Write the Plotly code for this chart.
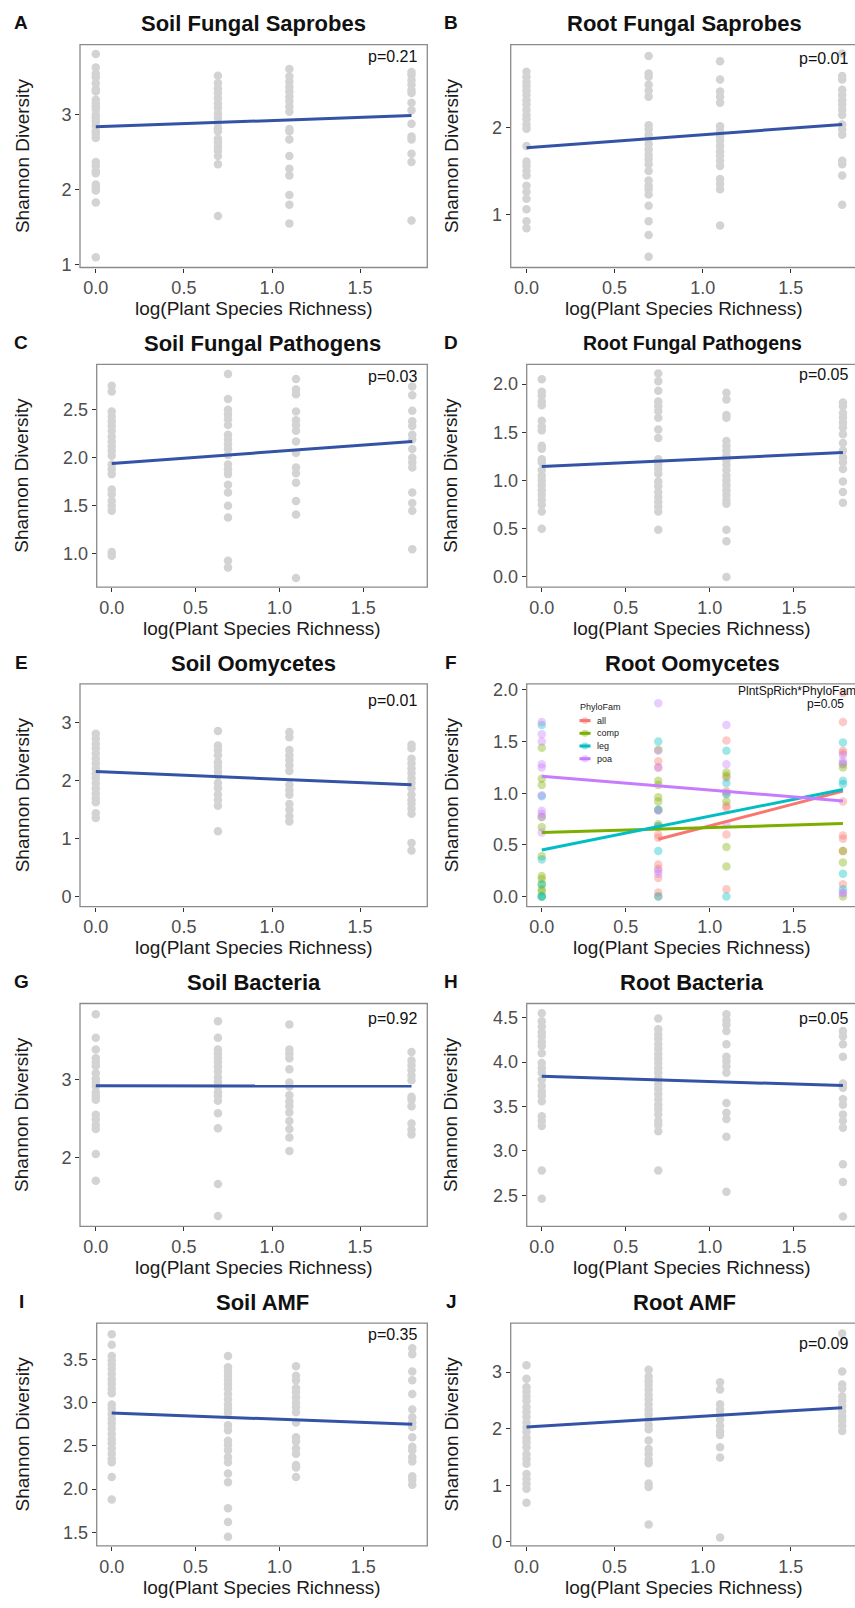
import numpy as np
import plotly.graph_objects as go

# ---------------- data ----------------
richness = [1, 2, 3, 6]
log_rich = list(np.log(richness))
x_tick_vals = [0.0, 0.5, 1.0, 1.5]

# each list: Shannon diversity values at richness 1, 2, 3, 6
soil_sap = [
    [3.81, 3.63, 3.55, 3.50, 3.42, 3.34, 3.31, 3.20, 3.15, 3.11, 3.07, 3.00, 2.96, 2.91, 2.85, 2.78, 2.74, 2.69, 2.37, 2.32, 2.25, 2.22, 2.07, 2.03, 1.99, 1.83, 1.10],
    [3.52, 3.42, 3.35, 3.29, 3.22, 3.15, 3.09, 3.02, 2.96, 2.89, 2.82, 2.78, 2.68, 2.63, 2.57, 2.52, 2.45, 2.34, 1.65],
    [3.61, 3.51, 3.44, 3.37, 3.31, 3.24, 3.18, 3.11, 3.04, 2.81, 2.78, 2.67, 2.45, 2.28, 2.19, 1.93, 1.80, 1.55],
    [3.57, 3.53, 3.46, 3.40, 3.33, 3.29, 3.16, 3.06, 2.88, 2.71, 2.67, 2.48, 2.37, 1.59],
]
soil_sap_fit = [2.84, 2.99]

root_sap = [
    [2.65, 2.59, 2.53, 2.48, 2.43, 2.38, 2.32, 2.27, 2.21, 2.15, 2.10, 2.04, 1.99, 1.79, 1.61, 1.56, 1.50, 1.45, 1.33, 1.26, 1.18, 1.06, 0.92, 0.84],
    [2.83, 2.63, 2.59, 2.50, 2.43, 2.36, 2.03, 1.98, 1.92, 1.87, 1.81, 1.75, 1.69, 1.64, 1.58, 1.50, 1.39, 1.33, 1.29, 1.23, 1.10, 0.92, 0.76, 0.51],
    [2.77, 2.56, 2.42, 2.36, 2.29, 2.02, 1.96, 1.90, 1.85, 1.79, 1.73, 1.68, 1.62, 1.56, 1.41, 1.35, 1.29, 0.87],
    [2.86, 2.60, 2.56, 2.44, 2.38, 2.32, 2.27, 2.21, 2.15, 2.04, 1.98, 1.92, 1.62, 1.58, 1.45, 1.11],
]
root_sap_fit = [1.77, 2.04]

soil_path = [
    [2.75, 2.69, 2.48, 2.43, 2.38, 2.33, 2.28, 2.22, 2.17, 2.12, 2.07, 2.02, 1.93, 1.88, 1.83, 1.67, 1.62, 1.55, 1.50, 1.45, 1.02, 0.98],
    [2.87, 2.61, 2.50, 2.45, 2.40, 2.34, 2.24, 2.19, 2.14, 2.09, 2.03, 1.93, 1.88, 1.83, 1.72, 1.64, 1.50, 1.38, 0.93, 0.86],
    [2.82, 2.71, 2.66, 2.48, 2.39, 2.34, 2.28, 2.17, 2.05, 1.90, 1.84, 1.74, 1.55, 1.41, 0.75],
    [2.74, 2.65, 2.49, 2.38, 2.33, 2.24, 2.19, 2.09, 2.00, 1.95, 1.90, 1.64, 1.53, 1.45, 1.05],
]
soil_path_fit = [1.94, 2.17]

root_path = [
    [2.05, 1.92, 1.88, 1.82, 1.78, 1.62, 1.56, 1.52, 1.36, 1.33, 1.22, 1.19, 1.11, 1.05, 1.00, 0.95, 0.90, 0.85, 0.80, 0.75, 0.68, 0.50],
    [2.11, 2.03, 1.93, 1.82, 1.77, 1.72, 1.65, 1.53, 1.44, 1.22, 1.17, 1.12, 1.07, 0.99, 0.94, 0.88, 0.83, 0.78, 0.73, 0.68, 0.49],
    [1.91, 1.84, 1.68, 1.65, 1.41, 1.36, 1.31, 1.26, 1.21, 1.16, 1.11, 1.05, 1.00, 0.95, 0.90, 0.85, 0.80, 0.76, 0.49, 0.37, 0.00],
    [1.81, 1.77, 1.70, 1.65, 1.60, 1.55, 1.48, 1.39, 1.31, 1.24, 1.19, 1.12, 0.99, 0.88, 0.77],
]
root_path_fit = [1.146, 1.29]

soil_oom = [
    [2.81, 2.73, 2.64, 2.56, 2.47, 2.38, 2.30, 2.21, 2.12, 2.05, 1.96, 1.87, 1.78, 1.70, 1.63, 1.44, 1.36],
    [2.86, 2.61, 2.53, 2.44, 2.32, 2.24, 2.16, 2.09, 1.96, 1.87, 1.76, 1.67, 1.57, 1.13],
    [2.84, 2.75, 2.53, 2.44, 2.36, 2.27, 2.17, 1.93, 1.84, 1.76, 1.60, 1.50, 1.39, 1.30],
    [2.62, 2.56, 2.38, 2.30, 2.21, 2.13, 2.04, 1.96, 1.87, 1.76, 1.67, 1.60, 1.52, 1.43, 0.93, 0.80],
]
soil_oom_fit = [2.16, 1.93]

# Root oomycetes, split by plant phylogenetic family
phylo_fams = ["all", "comp", "leg", "poa"]
root_oom_all = [[], [1.31, 1.25, 0.68, 0.60, 0.57, 0.31, 0.27, 0.18, 0.04, 0.00],
                [1.51, 1.15, 1.02, 1.00, 0.88, 0.86, 0.60, 0.07],
                [1.97, 1.69, 1.41, 1.39, 0.92, 0.59, 0.56, 0.44, 0.12]]
root_oom_comp = [[1.44, 1.14, 1.08, 0.77, 0.67, 0.39, 0.20, 0.17, 0.12, 0.07, 0.05, 0.00],
                 [1.42, 1.12, 1.08, 0.96, 0.92, 0.84, 0.70],
                 [1.20, 1.17, 0.92, 0.48, 0.29],
                 [1.28, 1.25, 0.44, 0.33, 0.00]]
root_oom_leg = [[1.66, 0.97, 0.36, 0.12, 0.00, 0.00],
                [1.50, 0.84, 0.68, 0.44, 0.00],
                [1.41, 1.10, 0.99, 0.00],
                [1.49, 1.12, 1.09, 0.22, 0.07]]
root_oom_poa = [[1.69, 1.57, 1.50, 1.28, 1.25, 0.98, 0.83, 0.80, 0.77, 0.62],
                [1.87, 1.41, 1.25, 0.83, 0.25, 0.22],
                [1.66, 1.28, 0.70],
                [1.37, 1.31, 1.29, 0.04, 0.03]]
root_oom_fit_all = [0.555, 1.02]     # fitted over richness 2..6
root_oom_fit_comp = [0.62, 0.706]
root_oom_fit_leg = [0.45, 1.037]
root_oom_fit_poa = [1.165, 0.925]

soil_bac = [
    [3.83, 3.53, 3.38, 3.27, 3.22, 3.17, 3.08, 3.01, 2.96, 2.91, 2.84, 2.79, 2.74, 2.55, 2.49, 2.42, 2.37, 2.05, 1.71],
    [3.74, 3.53, 3.38, 3.33, 3.27, 3.22, 3.16, 3.10, 3.03, 2.97, 2.91, 2.84, 2.79, 2.73, 2.57, 2.38, 1.67, 1.26],
    [3.70, 3.38, 3.33, 3.27, 3.13, 2.96, 2.91, 2.80, 2.72, 2.66, 2.58, 2.47, 2.37, 2.26, 2.09],
    [3.35, 3.24, 3.18, 3.12, 3.05, 2.99, 2.78, 2.74, 2.66, 2.44, 2.36, 2.30],
]
soil_bac_fit = [2.92, 2.915]

root_bac = [
    [4.55, 4.46, 4.40, 4.34, 4.29, 4.23, 4.18, 4.10, 3.99, 3.93, 3.88, 3.80, 3.73, 3.67, 3.62, 3.56, 3.39, 3.34, 3.28, 2.78, 2.46],
    [4.49, 4.37, 4.31, 4.26, 4.20, 4.15, 4.09, 4.04, 3.99, 3.93, 3.88, 3.82, 3.75, 3.70, 3.64, 3.58, 3.52, 3.47, 3.41, 3.34, 3.29, 3.22, 2.78],
    [4.54, 4.47, 4.42, 4.35, 4.20, 4.06, 4.01, 3.95, 3.88, 3.54, 3.43, 3.36, 3.16, 2.54],
    [4.35, 4.29, 4.20, 4.06, 3.76, 3.71, 3.58, 3.52, 3.41, 3.34, 3.26, 2.85, 2.65, 2.26],
]
root_bac_fit = [3.84, 3.735]

soil_amf = [
    [3.79, 3.67, 3.54, 3.49, 3.44, 3.39, 3.33, 3.27, 3.22, 3.16, 3.11, 2.98, 2.93, 2.87, 2.81, 2.76, 2.70, 2.64, 2.58, 2.53, 2.47, 2.41, 2.35, 2.31, 2.14, 1.88],
    [3.54, 3.41, 3.36, 3.31, 3.26, 3.21, 3.16, 3.10, 3.04, 2.98, 2.93, 2.88, 2.74, 2.68, 2.56, 2.51, 2.45, 2.37, 2.31, 2.18, 2.08, 1.78, 1.62, 1.45],
    [3.42, 3.31, 3.26, 3.17, 3.12, 3.06, 3.00, 2.95, 2.89, 2.77, 2.60, 2.55, 2.47, 2.41, 2.28, 2.25, 2.14],
    [3.63, 3.56, 3.36, 3.26, 3.10, 2.92, 2.83, 2.77, 2.72, 2.60, 2.49, 2.45, 2.37, 2.32, 2.15, 2.11, 2.05],
]
soil_amf_fit = [2.88, 2.75]

root_amf = [
    [3.12, 2.88, 2.73, 2.65, 2.57, 2.49, 2.38, 2.30, 2.21, 2.11, 2.02, 1.94, 1.84, 1.76, 1.67, 1.55, 1.46, 1.38, 1.20, 1.11, 1.03, 0.94, 0.69],
    [3.04, 2.92, 2.84, 2.77, 2.69, 2.60, 2.52, 2.43, 2.34, 2.25, 2.16, 2.07, 1.99, 1.79, 1.64, 1.55, 1.45, 1.39, 1.03, 0.97, 0.31],
    [2.82, 2.69, 2.43, 2.34, 2.25, 2.16, 2.05, 1.96, 1.89, 1.67, 1.49, 0.08],
    [3.68, 3.01, 2.78, 2.71, 2.57, 2.49, 2.40, 2.31, 2.22, 2.14, 2.05, 1.96],
]
root_amf_fit = [2.03, 2.37]

panel_letters = ["A", "B", "C", "D", "E", "F", "G", "H", "I", "J"]
panel_titles = ["Soil Fungal Saprobes", "Root Fungal Saprobes", "Soil Fungal Pathogens",
                "Root Fungal Pathogens", "Soil Oomycetes", "Root Oomycetes",
                "Soil Bacteria", "Root Bacteria", "Soil AMF", "Root AMF"]
p_labels = ["p=0.21", "p=0.01", "p=0.03", "p=0.05", "p=0.01", "p=0.05",
            "p=0.92", "p=0.05", "p=0.35", "p=0.09"]
y_tick_vals = [[1, 2, 3], [1, 2], [1.0, 1.5, 2.0, 2.5], [0.0, 0.5, 1.0, 1.5, 2.0],
               [0, 1, 2, 3], [0.0, 0.5, 1.0, 1.5, 2.0], [2, 3],
               [2.5, 3.0, 3.5, 4.0, 4.5], [1.5, 2.0, 2.5, 3.0, 3.5], [0, 1, 2, 3]]
y_tick_fmt = ["d", "d", ".1f", ".1f", "d", ".1f", "d", ".1f", ".1f", "d"]
y_ranges = [[0.964, 3.935], [0.385, 2.962], [0.655, 2.972], [-0.105, 2.205],
            [-0.17, 3.67], [-0.098, 2.058], [1.13, 3.967], [2.15, 4.66],
            [1.344, 3.92], [-0.07, 3.864]]
grey_data = [soil_sap, root_sap, soil_path, root_path, soil_oom, None,
             soil_bac, root_bac, soil_amf, root_amf]
grey_fits = [soil_sap_fit, root_sap_fit, soil_path_fit, root_path_fit, soil_oom_fit, None,
             soil_bac_fit, root_bac_fit, soil_amf_fit, root_amf_fit]
oom_groups = [root_oom_all, root_oom_comp, root_oom_leg, root_oom_poa]
oom_fits = [root_oom_fit_all, root_oom_fit_comp, root_oom_fit_leg, root_oom_fit_poa]
oom_fit_start = [1, 0, 0, 0]   # index into richness where each fitted line starts

# ---------------- layout / style ----------------
W, H = 855, 1608
FONT = "Liberation Sans, Arial, Helvetica, sans-serif"
POINT_GREY = "#D3D3D3"
LINE_BLUE = "#3553A6"
FAM_COLORS = ["#F8766D", "#7CAE00", "#00BFC4", "#C77CFF"]
FRAME = "#8A8A8A"

panel_left = [80, 510.7, 96.7, 526.7, 80, 526.7, 80, 526.7, 96.7, 510.7]
col_right = [427.3, 858.0]
row_top0, row_pitch, panel_h = 41.0, 322.0, 224.5
ytitle_x = [22, 451]
letter_x = [21, 451]
p_offset = [11.7, 14, 12.3, 10, 16.7, 0, 14.7, 15, 11, 21]
title_size = [22, 22, 22, 19.5, 22, 22, 22, 22, 22, 22]

span = float(np.log(6))
x_lo, x_hi = -0.05 * span, 1.05 * span


def fx(px):
    return px / W


def fy(py):
    return 1 - py / H


fig = go.Figure()
annotations = []
shapes = []
layout_axes = {}

for i in range(10):
    col, row = i % 2, i // 2
    left = panel_left[i]
    right = col_right[col]
    top = row_top0 + row * row_pitch
    bottom = top + panel_h
    vis_right = min(right, W)
    x_hi_vis = x_lo + (vis_right - left) / (right - left) * (x_hi - x_lo)
    sfx = "" if i == 0 else str(i + 1)
    xa, ya = "x" + sfx, "y" + sfx

    layout_axes["xaxis" + sfx] = dict(
        domain=[fx(left), fx(vis_right)], range=[x_lo, x_hi_vis], anchor=ya,
        tickvals=x_tick_vals, tickformat=".1f", showgrid=False, zeroline=False,
        showline=False, ticks="outside", ticklen=4, tickwidth=1.1, tickcolor="#333333",
        tickfont=dict(family=FONT, size=18, color="#4D4D4D"), fixedrange=True)
    layout_axes["yaxis" + sfx] = dict(
        domain=[fy(bottom), fy(top)], range=y_ranges[i], anchor=xa,
        tickvals=y_tick_vals[i], tickformat=y_tick_fmt[i],
        showgrid=False, zeroline=False, showline=False, ticks="outside", ticklen=4,
        tickwidth=1.1, tickcolor="#333333",
        tickfont=dict(family=FONT, size=18, color="#4D4D4D"), fixedrange=True)

    if grey_data[i] is not None:
        xs, ys = [], []
        for j, vals in enumerate(grey_data[i]):
            xs += [log_rich[j]] * len(vals)
            ys += vals
        fig.add_trace(go.Scatter(x=xs, y=ys, mode="markers", xaxis=xa, yaxis=ya,
                                 marker=dict(size=8.5, color=POINT_GREY, line=dict(width=0)),
                                 showlegend=False, hoverinfo="skip"))
        fig.add_trace(go.Scatter(x=[log_rich[0], log_rich[-1]], y=grey_fits[i], mode="lines",
                                 xaxis=xa, yaxis=ya, line=dict(color=LINE_BLUE, width=3),
                                 showlegend=False, hoverinfo="skip"))
    else:
        for g, grp in enumerate(oom_groups):
            xs, ys = [], []
            for j, vals in enumerate(grp):
                xs += [log_rich[j]] * len(vals)
                ys += vals
            fig.add_trace(go.Scatter(x=xs, y=ys, mode="markers", xaxis=xa, yaxis=ya,
                                     marker=dict(size=8.5, color=FAM_COLORS[g], opacity=0.38,
                                                 line=dict(width=0)),
                                     showlegend=False, hoverinfo="skip"))
        for g, fit in enumerate(oom_fits):
            fig.add_trace(go.Scatter(x=[log_rich[oom_fit_start[g]], log_rich[-1]], y=fit,
                                     mode="lines", xaxis=xa, yaxis=ya,
                                     line=dict(color=FAM_COLORS[g], width=3),
                                     showlegend=False, hoverinfo="skip"))

    # panel border
    shapes.append(dict(type="rect", xref="paper", yref="paper", x0=fx(left), x1=fx(right),
                       y0=fy(bottom), y1=fy(top), line=dict(color=FRAME, width=1.3),
                       fillcolor="rgba(0,0,0,0)", layer="above"))
    cx = fx((left + right) / 2)
    annotations.append(dict(text="<b>%s</b>" % panel_letters[i], x=fx(letter_x[col]), y=fy(top - 22),
                            xref="paper", yref="paper", showarrow=False, xanchor="center",
                            yanchor="middle", font=dict(family=FONT, size=19, color="#111111")))
    annotations.append(dict(text="<b>%s</b>" % panel_titles[i], x=cx, y=fy(top - 21),
                            xref="paper", yref="paper", showarrow=False, xanchor="center",
                            yanchor="middle", font=dict(family=FONT, size=title_size[i], color="#111111")))
    annotations.append(dict(text="log(Plant Species Richness)", x=cx, y=fy(bottom + 41.5),
                            xref="paper", yref="paper", showarrow=False, xanchor="center",
                            yanchor="middle", font=dict(family=FONT, size=19, color="#1A1A1A")))
    annotations.append(dict(text="Shannon Diversity", x=fx(ytitle_x[col]), y=fy((top + bottom) / 2),
                            xref="paper", yref="paper", showarrow=False, xanchor="center",
                            yanchor="middle", textangle=-90,
                            font=dict(family=FONT, size=19, color="#1A1A1A")))
    if i != 5:
        annotations.append(dict(text=p_labels[i], x=fx(right - 8), y=fy(top + p_offset[i]),
                                xref="paper", yref="paper", showarrow=False, xanchor="right",
                                yanchor="middle", font=dict(family=FONT, size=16, color="#111111")))
    else:
        annotations.append(dict(text="PlntSpRich*PhyloFam", x=fx(736), y=fy(top + 7.5),
                                xref="paper", yref="paper", showarrow=False, xanchor="left",
                                yanchor="middle", font=dict(family=FONT, size=12, color="#111111")))
        annotations.append(dict(text=p_labels[i], x=fx(845.5), y=fy(top + 20),
                                xref="paper", yref="paper", showarrow=False, xanchor="right",
                                yanchor="middle", font=dict(family=FONT, size=12, color="#111111")))
        # legend for PhyloFam
        annotations.append(dict(text="PhyloFam", x=fx(578), y=fy(top + 23),
                                xref="paper", yref="paper", showarrow=False, xanchor="left",
                                yanchor="middle", font=dict(family=FONT, size=9, color="#222222")))
        for g, fam in enumerate(phylo_fams):
            ky = top + 37 + g * 12.8
            shapes.append(dict(type="line", xref="paper", yref="paper", x0=fx(579.5), x1=fx(590.5),
                               y0=fy(ky), y1=fy(ky), line=dict(color=FAM_COLORS[g], width=3)))
            shapes.append(dict(type="circle", xref="paper", yref="paper", x0=fx(581.5), x1=fx(588.5),
                               y0=fy(ky + 3.5), y1=fy(ky - 3.5), line=dict(width=0),
                               fillcolor=FAM_COLORS[g], opacity=0.4))
            annotations.append(dict(text=fam, x=fx(595), y=fy(ky), xref="paper", yref="paper",
                                    showarrow=False, xanchor="left", yanchor="middle",
                                    font=dict(family=FONT, size=9, color="#222222")))

fig.update_layout(
    width=W, height=H, autosize=False,
    margin=dict(l=0, r=0, t=0, b=0, pad=0),
    paper_bgcolor="white", plot_bgcolor="white",
    showlegend=False, annotations=annotations, shapes=shapes,
    font=dict(family=FONT),
    **layout_axes,
)

fig.write_html("out.html")
